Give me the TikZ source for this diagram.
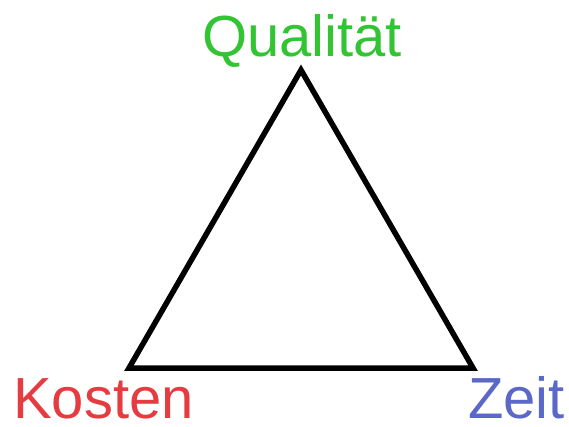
\documentclass[tikz,border=0pt]{standalone}
\usepackage{fontspec}
\setmainfont{Liberation Sans}
\definecolor{qgreen}{RGB}{51,196,51}
\definecolor{kred}{RGB}{228,60,64}
\definecolor{zblue}{RGB}{92,104,200}
\begin{document}
\begin{tikzpicture}[x=1pt,y=1pt,
  lbl/.style={font=\fontsize{58}{60}\selectfont, inner sep=0pt, anchor=base},
  tri/.style={draw=black, line width=5.5pt, miter limit=10}]
\useasboundingbox (0,0) rectangle (569,426);
\coordinate (top) at (301,356);
\coordinate (bl) at (129,58);
\coordinate (br) at (473,58);
\draw[tri] (top) -- (bl) -- (br) -- cycle;
\node[lbl, text=qgreen] (q) at (302,369) {Qualität};
\node[lbl, text=kred, anchor=base west] (k) at (13,8) {Kosten};
\node[lbl, text=zblue, anchor=base west] (z) at (468,8) {Zeit};
\end{tikzpicture}
\end{document}
